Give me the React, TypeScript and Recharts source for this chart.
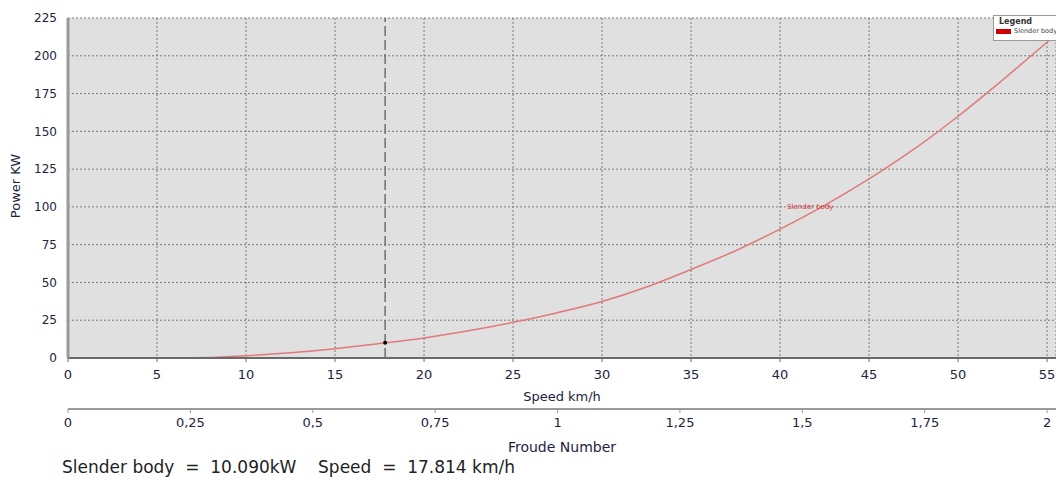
import React from 'react';
import {
  ComposedChart, Line, XAxis, YAxis, CartesianGrid, ReferenceLine, ReferenceDot,
} from 'recharts';

// speed (km/h) vs power (kW) for the slender body curve
const speeds = [5.2, 6, 7, 8, 10, 12.5, 15, 17.5, 20, 22.5, 25, 27.5, 30, 32.5, 35, 37.5, 40, 42.5, 45, 47.5, 50, 52.5, 55.5];
const power = [0, 0, 0.1, 0.4, 1.5, 3.5, 6.2, 9.6, 13.3, 18, 23.6, 30, 37.4, 47, 58.6, 71, 85.3, 101, 118.5, 138, 160, 184, 214];

const speedTicks = [0, 5, 10, 15, 20, 25, 30, 35, 40, 45, 50, 55];
const powerTicks = [0, 25, 50, 75, 100, 125, 150, 175, 200, 225];
const froudeTicks = [0, 0.25, 0.5, 0.75, 1, 1.25, 1.5, 1.75, 2];
// Froude 2 sits under 55 km/h
const froudeToSpeed = 27.5;

const cursorSpeed = 17.814;
const cursorPower = 10.09;

const data = speeds.map((s, i) => ({ speed: s, power: power[i] }));

const FONT = '"DejaVu Sans", Tahoma, sans-serif';
const TEXT = '#1e2340';

const LegendBox = () => (
  <div style={{ position: 'absolute', left: 993, top: 15, width: 66, height: 26, background: '#fff', border: '1px solid #9a9a9a', boxSizing: 'border-box', fontFamily: FONT, paddingLeft: 5 }}>
    <div style={{ fontSize: 8, fontWeight: 'bold', color: '#333', lineHeight: '10px', marginTop: 1 }}>Legend</div>
    <div style={{ display: 'flex', alignItems: 'center', whiteSpace: 'nowrap', fontSize: 6.5, color: '#444', marginLeft: -3 }}>
      <span style={{ display: 'inline-block', width: 15, height: 5, background: '#cc0000', marginRight: 3 }} />
      Slender body
    </div>
  </div>
);

export default function App() {
  return (
    <div style={{ position: 'absolute', left: 0, top: 0, width: 1056, height: 479, background: '#fff', overflow: 'hidden', fontFamily: FONT }}>
      <ComposedChart width={1056} height={455} data={data} margin={{ top: 18, right: 0, bottom: 0, left: 0 }}>
        <CartesianGrid fill="#e0e0e0" stroke="#7a7a7a" strokeDasharray="2 2" />
        <XAxis
          dataKey="speed"
          type="number"
          domain={[0, 55.5]}
          ticks={speedTicks}
          interval={0}
          height={51}
          axisLine={{ stroke: '#6a6a6a', strokeWidth: 2 }}
          tickLine={{ stroke: '#6a6a6a' }}
          tickSize={4}
          tickMargin={8}
          tick={{ fontSize: 13, fill: TEXT, fontFamily: FONT }}
          label={{ value: 'Speed km/h', position: 'insideBottom', offset: 8, fontSize: 13, fill: TEXT, fontFamily: FONT }}
        />
        <XAxis
          xAxisId="fr"
          dataKey="speed"
          type="number"
          domain={[0, 55.5]}
          ticks={froudeTicks.map((f) => f * froudeToSpeed)}
          interval={0}
          height={46}
          axisLine={{ stroke: '#9a9a9a', strokeWidth: 2 }}
          tickLine={{ stroke: '#9a9a9a' }}
          tickSize={4}
          tickMargin={5}
          tickFormatter={(v: number) => String(v / froudeToSpeed).replace('.', ',')}
          tick={{ fontSize: 13, fill: TEXT, fontFamily: FONT }}
          label={{ value: 'Froude Number', position: 'insideBottom', offset: 3, fontSize: 14, fill: TEXT, fontFamily: FONT }}
        />
        <YAxis
          type="number"
          domain={[0, 225]}
          ticks={powerTicks}
          interval={0}
          width={68}
          axisLine={{ stroke: '#9a9a9a', strokeWidth: 3 }}
          tickLine={false}
          tickSize={8}
          tickMargin={3}
          tick={{ fontSize: 12, fill: TEXT, fontFamily: FONT }}
          label={() => (
            <text x={15} y={186} transform="rotate(-90 15 186)" textAnchor="middle" dominantBaseline="central" fontSize={13} fill={TEXT} fontFamily={FONT}>
              Power KW
            </text>
          )}
        />
        <ReferenceLine x={cursorSpeed} stroke="#6e6e6e" strokeWidth={1.5} strokeDasharray="10 4" />
        <Line
          dataKey="power"
          type="monotone"
          stroke="#e07a7a"
          strokeWidth={1.5}
          dot={false}
          activeDot={false}
          isAnimationActive={false}
        />
        <ReferenceDot
          x={41.7}
          y={100}
          r={0}
          fill="none"
          stroke="none"
          label={{ value: 'Slender body', position: 'center', fontSize: 7, fill: '#d43a3a', fontFamily: FONT }}
        />
        <ReferenceDot x={cursorSpeed} y={cursorPower} r={2} fill="#000" stroke="none" />
      </ComposedChart>
      <LegendBox />
      <div style={{ position: 'absolute', left: 62, top: 457, fontSize: 17, lineHeight: '20px', color: '#222', whiteSpace: 'pre', fontFamily: FONT }}>
        {'Slender body  =  10.090kW    Speed  =  17.814 km/h'}
      </div>
    </div>
  );
}
